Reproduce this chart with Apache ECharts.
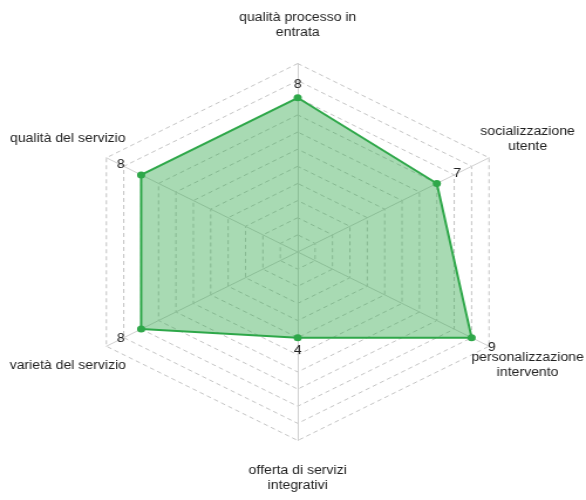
<!DOCTYPE html>
<html>
<head>
<meta charset="utf-8">
<script src="https://cdn.jsdelivr.net/npm/echarts@6/dist/echarts.min.js"></script>
<style>
  html, body { margin: 0; padding: 0; background: #fff; overflow: hidden; }
  #wrap { width: 586px; height: 500px; overflow: hidden; }
  #chart { width: 500px; height: 500px; transform: scaleX(1.172); transform-origin: 0 0; }
</style>
</head>
<body>
<div id="wrap"><div id="chart"></div></div>
<script>
// Indicators listed counter-clockwise starting from the top (ECharts radar order)
const categories = [
  'qualità processo in\nentrata',
  'qualità del servizio',
  'varietà del servizio',
  'offerta di servizi\nintegrativi',
  'personalizzazione\nintervento',
  'socializzazione\nutente'
];
const values = [8, 8, 8, 4, 9, 7];
const axisMin = -1;
const axisMax = 10;
const ringCount = 11;

const CX = 254, CY = 252;
const chart = echarts.init(document.getElementById('chart'), null, { renderer: 'canvas' });

const option = {
  animation: false,
  textStyle: { fontFamily: 'Liberation Sans, Arial, sans-serif' },
  radar: {
    center: [CX, CY],
    radius: 188.5,
    startAngle: 90,
    splitNumber: ringCount,
    shape: 'polygon',
    nameGap: 38,
    axisName: {
      color: '#222',
      fontSize: 12,
      lineHeight: 15,
      align: 'center',
      verticalAlign: 'middle',
      fontFamily: 'Liberation Sans, Arial, sans-serif'
    },
    indicator: categories.map(n => ({ name: n, min: axisMin, max: axisMax })),
    axisLine: { lineStyle: { color: '#cfcfcf', width: 1 } },
    splitLine: { lineStyle: { color: '#c4c4c4', width: 1, type: [4, 3] } },
    splitArea: { show: false },
    axisTick: { show: false },
    axisLabel: { show: false }
  },
  series: [{
    type: 'radar',
    symbol: 'circle',
    symbolSize: 7,
    lineStyle: { color: '#2fa84a', width: 2 },
    itemStyle: { color: '#2fa84a' },
    areaStyle: { color: '#2fa84a', opacity: 0.42 },
    label: {
      show: true,
      color: '#222',
      fontSize: 12,
      fontFamily: 'Liberation Sans, Arial, sans-serif'
    },
    labelLayout: function (p) {
      const sx = p.rect.x + p.rect.width / 2;
      const sy = p.rect.y + p.rect.height / 2;
      let dx = sx - CX, dy = sy - CY;
      const len = Math.sqrt(dx * dx + dy * dy) || 1;
      dx /= len; dy /= len;
      const d = 13 + 8 * Math.abs(dx);
      return { x: sx + dx * d, y: sy + dy * d, align: 'center', verticalAlign: 'middle' };
    },
    data: [{ value: values, name: 'valutazione' }]
  }]
};
chart.setOption(option);
</script>
</body>
</html>
